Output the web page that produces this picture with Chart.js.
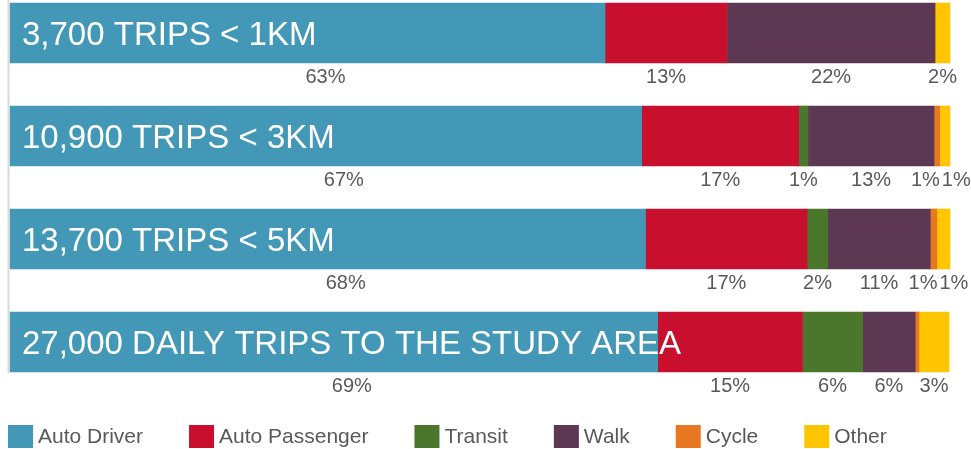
<!DOCTYPE html>
<html>
<head>
<meta charset="utf-8">
<script src="https://cdn.jsdelivr.net/npm/chart.js@4"></script>
<style>
  html, body { margin: 0; padding: 0; background: #fff; }
  #wrap { width: 971px; height: 449px; }
</style>
</head>
<body>
<div id="wrap"><canvas id="chart" width="971" height="449"></canvas></div>
<script>
// trip categories (top to bottom)
const categories = ['3,700 TRIPS < 1KM', '10,900 TRIPS < 3KM', '13,700 TRIPS < 5KM', '27,000 DAILY TRIPS TO THE STUDY AREA'];

// mode share, percent
const autoDriver    = [63.3, 67.2, 67.6, 68.9];
const autoPassenger = [13.0, 16.7, 17.2, 15.4];
const transit       = [0.0, 1.0, 2.2, 6.4];
const walk          = [22.1, 13.4, 10.9, 5.6];
const cycle         = [0.0, 0.6, 0.7, 0.4];
const other         = [1.6, 1.1, 1.4, 3.2];

const FONT = '"Liberation Sans", Arial, sans-serif';
const GREY = '#595959';

const datasets = [
  { label: 'Auto Driver', data: autoDriver, backgroundColor: '#4498B7', labelNudge: 18 },
  { label: 'Auto Passenger', data: autoPassenger, backgroundColor: '#C8102E' },
  { label: 'Transit', data: transit, backgroundColor: '#4A772B' },
  { label: 'Walk', data: walk, backgroundColor: '#5C3853' },
  { label: 'Cycle', data: cycle, backgroundColor: '#E87722' },
  { label: 'Other', data: other, backgroundColor: '#FFC600' }
].map(d => Object.assign({ barThickness: 60, borderWidth: 0, clip: false }, d));

// bar captions, percent labels, axis line and legend
const extras = {
  id: 'extras',
  afterDatasetsDraw(chart) {
    const ctx = chart.ctx;
    const xs = chart.scales.x, ys = chart.scales.y;
    ctx.save();

    // left axis line
    ctx.strokeStyle = '#d9d9d9';
    ctx.lineWidth = 2;
    ctx.beginPath();
    ctx.moveTo(xs.left - 1.5, ys.getPixelForValue(0) - 33);
    ctx.lineTo(xs.left - 1.5, ys.getPixelForValue(categories.length - 1) + 31);
    ctx.stroke();

    // captions inside the bars
    ctx.fillStyle = '#fff';
    ctx.font = '33px ' + FONT;
    ctx.textBaseline = 'middle';
    ctx.textAlign = 'left';
    categories.forEach((c, i) => {
      ctx.fillText(c, xs.left + 12, ys.getPixelForValue(i) + 3);
    });

    // percent labels under the bars
    ctx.font = '20px ' + FONT;
    ctx.fillStyle = GREY;
    ctx.textAlign = 'center';
    categories.forEach((c, i) => {
      const row = [];
      chart.data.datasets.forEach((ds, k) => {
        const v = ds.data[i];
        if (Math.round(v) < 1) return;
        const bar = chart.getDatasetMeta(k).data[i];
        const p = bar.getProps(['x', 'base', 'y', 'height'], true);
        const text = Math.round(v) + '%';
        row.push({ text, x: (p.x + p.base) / 2 + (ds.labelNudge || 0), y: p.y + p.height / 2 + 14, w: ctx.measureText(text).width });
      });
      for (let j = 1; j < row.length; j++) {
        const a = row[j - 1], b = row[j];
        const need = (a.w + b.w) / 2 + 2;
        const gap = b.x - a.x;
        if (gap < need) {
          a.x -= (need - gap) / 2;
          b.x += (need - gap) / 2;
        }
      }
      row.forEach(l => ctx.fillText(l.text, l.x, l.y));
    });

    // legend
    let lx = 8;
    const ly = 425;
    ctx.textAlign = 'left';
    ctx.font = '21px ' + FONT;
    chart.data.datasets.forEach(ds => {
      ctx.fillStyle = ds.backgroundColor;
      ctx.fillRect(lx, ly, 25, 23);
      ctx.fillStyle = GREY;
      ctx.fillText(ds.label, lx + 30, ly + 12);
      lx += 30 + ctx.measureText(ds.label).width + 46;
    });

    ctx.restore();
  }
};

new Chart(document.getElementById('chart'), {
  type: 'bar',
  data: { labels: categories, datasets },
  options: {
    indexAxis: 'y',
    responsive: false,
    animation: false,
    layout: { padding: { top: 33, bottom: 107, left: 10, right: 21 } },
    scales: {
      x: { stacked: true, min: 0, max: 100, display: false },
      y: { stacked: true, offset: false, display: false }
    },
    plugins: {
      legend: { display: false },
      tooltip: { enabled: false }
    }
  },
  plugins: [extras]
});
</script>
</body>
</html>
